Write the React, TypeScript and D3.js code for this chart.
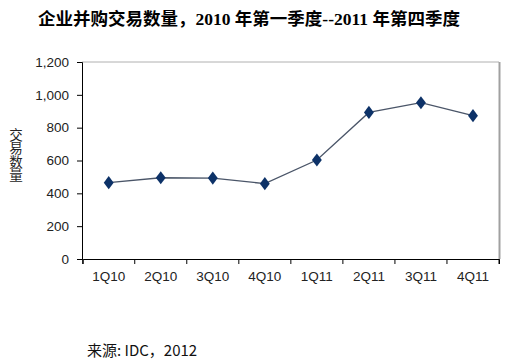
import React, { useEffect, useRef } from 'react';
import { select, scaleBand, scaleLinear, axisLeft, axisBottom, line, symbol, symbolDiamond, format } from 'd3';

const quarters = ['1Q10', '2Q10', '3Q10', '4Q10', '1Q11', '2Q11', '3Q11', '4Q11'];
const deals = [465, 495, 493, 459, 603, 893, 952, 873];
const yTicks = [0, 200, 400, 600, 800, 1000, 1200];

const title = '企业并购交易数量，2010 年第一季度--2011 年第四季度';
const yTitle = '交易数量';
const source = '来源: IDC，2012';

const App = () => {
    const svgRef = useRef<SVGSVGElement>(null);

    useEffect(() => {
        const svg = select(svgRef.current);
        svg.selectAll('*').remove();

        const left = 82, right = 499, top = 62, bottom = 259;

        const x = scaleBand().domain(quarters).range([left + 0.7, right]);
        const y = scaleLinear().domain([0, 1200]).range([bottom, top]);

        // plot frame
        svg.append('line')
            .attr('x1', left).attr('x2', right).attr('y1', top).attr('y2', top)
            .attr('stroke', '#b0b0b0');
        svg.append('line')
            .attr('x1', right + 0.5).attr('x2', right + 0.5).attr('y1', top).attr('y2', bottom)
            .attr('stroke', '#a0a0a0').attr('stroke-width', 2);

        const yAxis = axisLeft(y).tickValues(yTicks).tickSize(5).tickFormat(format(','));
        svg.append('g')
            .attr('transform', `translate(${left},0)`)
            .call(yAxis)
            .call(g => g.select('.domain').attr('stroke', '#000'))
            .call(g => g.selectAll('text')
                .attr('font-family', 'Liberation Sans, Arial, sans-serif')
                .attr('font-size', 13.5).attr('fill', '#222').attr('x', -13));

        const xAxis = axisBottom(x).tickSize(5).tickSizeOuter(5);
        const gx = svg.append('g')
            .attr('transform', `translate(0,${bottom})`)
            .call(xAxis);
        gx.select('.domain').attr('stroke', '#000');
        gx.selectAll('.tick line').remove();
        gx.selectAll('.tick text')
            .attr('font-family', 'Liberation Sans, Arial, sans-serif')
            .attr('font-size', 13.5).attr('fill', '#222').attr('y', 12);
        gx.selectAll('.bnd')
            .data(quarters.concat(['end']))
            .join('line')
            .attr('class', 'bnd')
            .attr('x1', (d, i) => i < quarters.length ? x(d) : right)
            .attr('x2', (d, i) => i < quarters.length ? x(d) : right)
            .attr('y1', 0).attr('y2', 5)
            .attr('stroke', '#000');

        const cx = (d: string) => (x(d) || 0) + x.bandwidth() / 2;

        const myLine = line<number>()
            .x((v, i) => cx(quarters[i]))
            .y(v => y(v));

        svg.append('path')
            .datum(deals)
            .attr('d', myLine)
            .attr('fill', 'none')
            .attr('stroke', '#4a5568')
            .attr('stroke-width', 1.3);

        svg.selectAll('.pt')
            .data(deals)
            .join('path')
            .attr('class', 'pt')
            .attr('d', symbol(symbolDiamond, 50)())
            .attr('transform', (v, i) => `translate(${cx(quarters[i])},${y(v)}) scale(1.3,1)`)
            .attr('fill', '#0d3268');

        svg.append('text')
            .attr('x', 38).attr('y', 25)
            .attr('font-family', 'Liberation Serif, "Noto Sans CJK SC", serif')
            .attr('font-weight', 'bold')
            .attr('font-size', 17.5)
            .attr('fill', '#000')
            .text(title);

        svg.append('text')
            .attr('x', 16).attr('y', 128)
            .attr('font-family', '"Noto Sans CJK SC", sans-serif')
            .attr('font-size', 13.5)
            .attr('fill', '#222')
            .style('writing-mode', 'vertical-rl')
            .style('text-orientation', 'upright')
            .text(yTitle);

        svg.append('text')
            .attr('x', 87).attr('y', 356)
            .attr('font-family', '"Noto Sans CJK SC", sans-serif')
            .attr('font-size', 15)
            .attr('fill', '#111')
            .text(source);
    }, []);

    return (
        <svg ref={svgRef} width={512} height={364}
            style={{ position: 'absolute', left: 0, top: 0, background: '#fff' }} />
    );
};

export default App;
